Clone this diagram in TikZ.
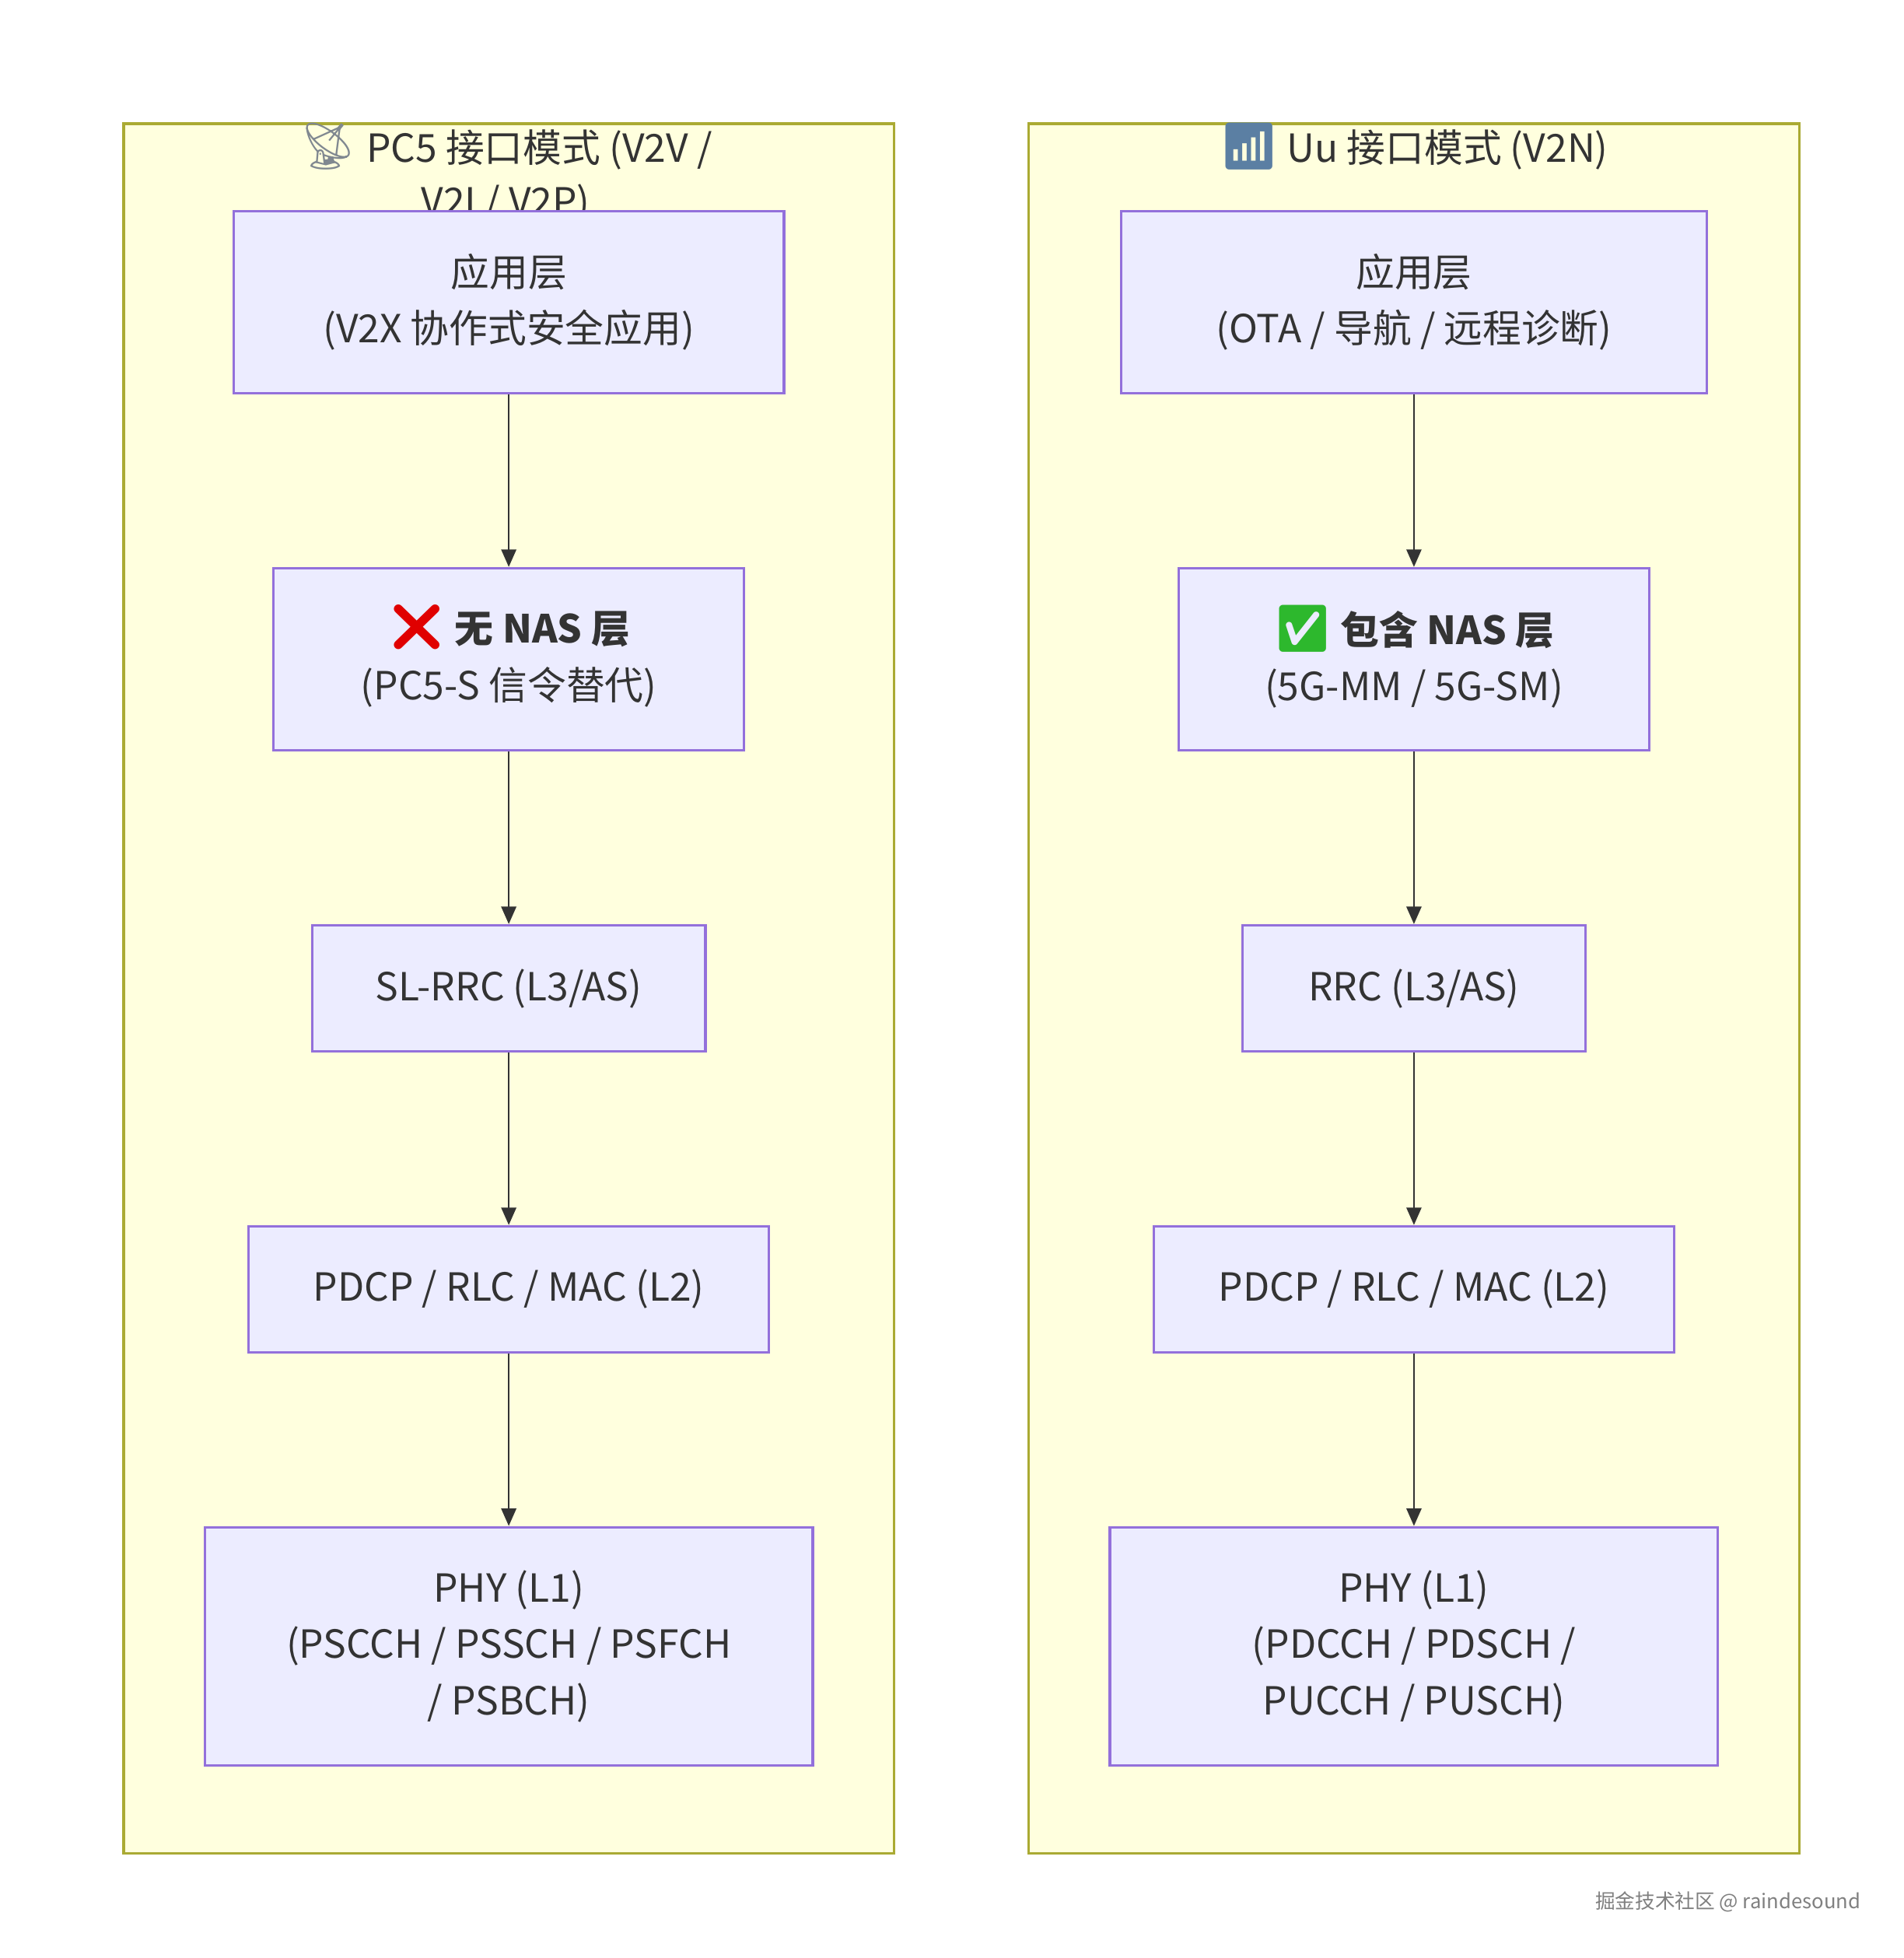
\documentclass[tikz,border=0pt]{standalone}
\usepackage{fontspec}
\setmainfont{Noto Sans CJK SC}
\newfontfamily\emoji{Noto Emoji}
\usepackage{tikz}
\usetikzlibrary{arrows.meta}
\definecolor{layerfill}{HTML}{ECECFF}
\definecolor{layerline}{HTML}{9370DB}
\definecolor{modefill}{HTML}{FFFFDE}
\definecolor{modeline}{HTML}{AAAA33}
\definecolor{ink}{HTML}{333333}
\newcommand{\icon}[2]{\smash{\emoji\fontsize{18.5}{18.5}\selectfont\textcolor[HTML]{#1}{#2}}}

\begin{document}
\begin{tikzpicture}[x=0.5pt,y=-0.5pt,>={Triangle[length=7pt,width=6pt]}]
\tikzset{
  mode/.style={draw=modeline,fill=modefill,line width=1pt,rectangle,inner sep=0pt},
  layer/.style={draw=layerline,fill=layerfill,line width=1pt,rectangle,inner sep=0pt,
    align=center,text=ink,font=\fontsize{15.5}{22.5}\selectfont},
  title/.style={align=center,text=ink,font=\fontsize{15.5}{21.5}\selectfont},
  link/.style={draw=ink,line width=0.7pt,->}
}
\useasboundingbox[fill=white] (0,0) rectangle (1525,1568);

%% two interface modes
\node [mode,minimum width=308.5pt,minimum height=692.5pt] (pc5) at(407.5,791.5){};
\node [mode,minimum width=308.5pt,minimum height=692.5pt] (uu) at(1132.5,791.5){};

\node [title] (pc5t) at(405,141.5){\icon{808890}{📡} PC5 接口模式 (V2V /\\V2I / V2P)};
\node [title] (uut) at(1132.5,120){\icon{5B7FA3}{📶} Uu 接口模式 (V2N)};

%% PC5 stack
\node [layer,minimum width=220.5pt,minimum height=73pt] (app) at(407.5,242){应用层\\(V2X 协作式安全应用)};
\node [layer,minimum width=188.5pt,minimum height=73pt] (nas) at(407.5,528){\icon{E00000}{❌} \textbf{无 NAS 层}\\(PC5-S 信令替代)};
\node [layer,minimum width=157.5pt,minimum height=50.5pt] (rrc) at(407.5,791.5){SL-RRC (L3/AS)};
\node [layer,minimum width=208.5pt,minimum height=50.5pt] (ltwo) at(407.5,1032.5){PDCP / RLC / MAC (L2)};
\node [layer,minimum width=243.5pt,minimum height=95.5pt] (phy) at(407.5,1318.5){PHY (L1)\\(PSCCH / PSSCH / PSFCH\\/ PSBCH)};

%% Uu stack
\node [layer,minimum width=234.5pt,minimum height=73pt] (uapp) at(1132.5,242){应用层\\(OTA / 导航 / 远程诊断)};
\node [layer,minimum width=188.5pt,minimum height=73pt] (unas) at(1132.5,528){\icon{2DB82D}{✅} \textbf{包含 NAS 层}\\(5G-MM / 5G-SM)};
\node [layer,minimum width=137.5pt,minimum height=50.5pt] (urrc) at(1132.5,791.5){RRC (L3/AS)};
\node [layer,minimum width=208.5pt,minimum height=50.5pt] (ultwo) at(1132.5,1032.5){PDCP / RLC / MAC (L2)};
\node [layer,minimum width=243.5pt,minimum height=95.5pt] (uphy) at(1132.5,1318.5){PHY (L1)\\(PDCCH / PDSCH /\\PUCCH / PUSCH)};

\draw[link](app) -- (nas);
\draw[link](nas) -- (rrc);
\draw[link](rrc) -- (ltwo);
\draw[link](ltwo) -- (phy);

\draw[link](uapp) -- (unas);
\draw[link](unas) -- (urrc);
\draw[link](urrc) -- (ultwo);
\draw[link](ultwo) -- (uphy);

\node [text=gray,font=\fontsize{8}{10}\selectfont] (mark) at(1384,1523){掘金技术社区 @ raindesound};
\end{tikzpicture}
\end{document}
